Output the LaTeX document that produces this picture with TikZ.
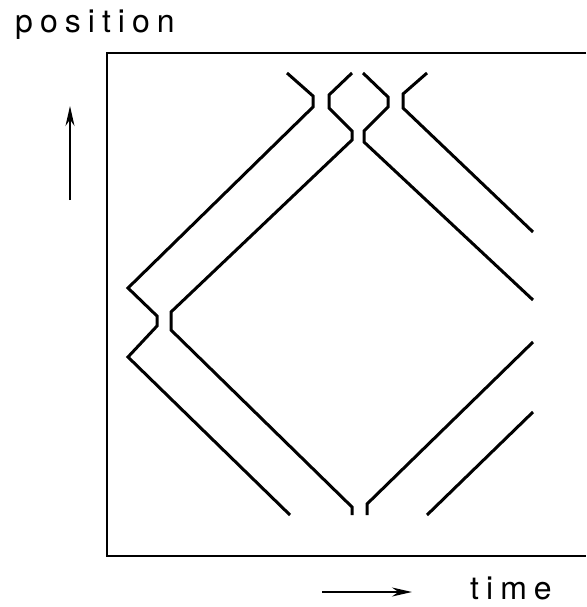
\documentclass[tikz,border=0pt]{standalone}
\usepackage{fontspec}
\setmainfont{TeX Gyre Heros}
\newfontfamily\lblfont[LetterSpace=22]{TeX Gyre Heros}
\usetikzlibrary{arrows.meta}
\begin{document}
\begin{tikzpicture}[x=1pt,y=-1pt,
  traj/.style={line width=3pt, line join=miter},
  frameline/.style={line width=2pt},
  ax/.style={line width=2pt,-{Stealth[length=20pt,width=9pt]}},
  lbl/.style={font=\lblfont\fontsize{32}{32}\selectfont, inner sep=0pt, anchor=base west}]
\useasboundingbox (0,0) rectangle (586,607);
% frame (open on the right)
\draw[frameline] (586,53) -- (107,53) -- (107,556) -- (586,556);
% trajectories
\draw[traj] (287,73) -- (313,96) -- (313,107) -- (128,288) -- (157,316) -- (157,326) -- (128,357) -- (290,515);
\draw[traj] (352,73) -- (329,95) -- (329,108) -- (352,131) -- (352,140) -- (171,312) -- (171,330) -- (352,507) -- (352,515);
\draw[traj] (363,73) -- (388,97) -- (388,107) -- (364,131) -- (364,142) -- (533,300);
\draw[traj] (427,73) -- (403,94) -- (403,108) -- (533,232);
\draw[traj] (533,342) -- (367,504) -- (367,515);
\draw[traj] (533,412) -- (427,515);
% axis labels and arrows
\node[lbl] (pos) at (15,33) {position};
\node[lbl] (tim) at (470,599) {time};
\coordinate (pa0) at (70,200);
\coordinate (pa1) at (70,106);
\draw[ax] (pa0) -- (pa1);
\coordinate (ta0) at (322,592);
\coordinate (ta1) at (412,592);
\draw[ax] (ta0) -- (ta1);
\end{tikzpicture}
\end{document}
